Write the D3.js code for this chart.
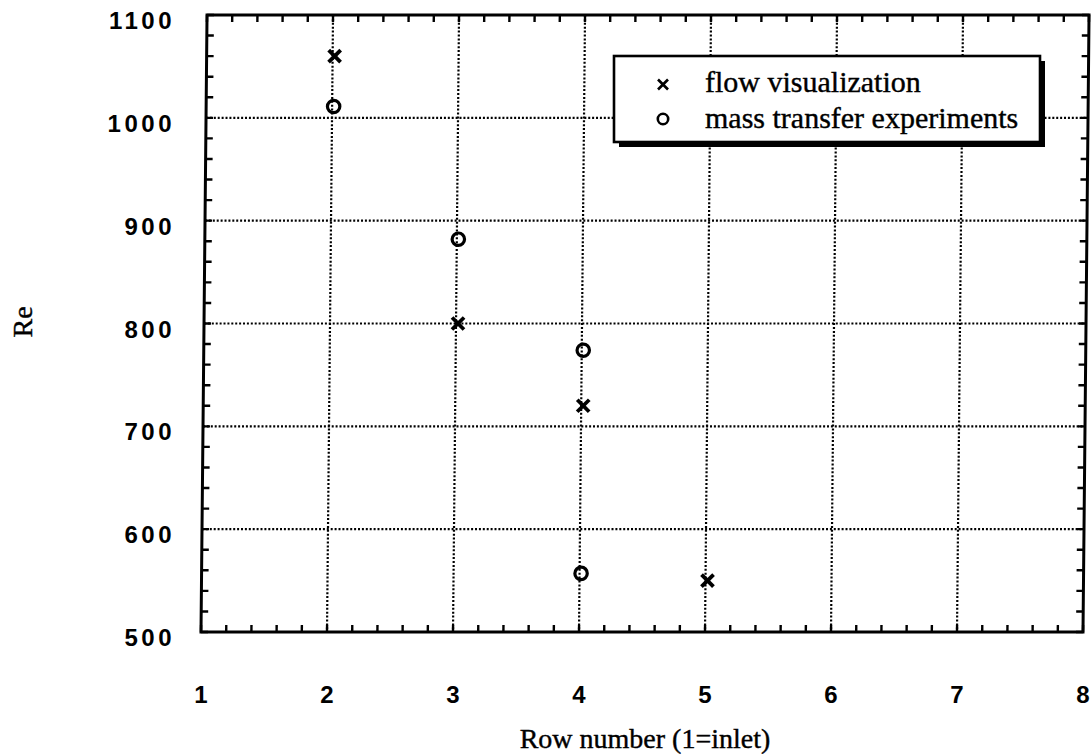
<!DOCTYPE html>
<html>
<head>
<meta charset="utf-8">
<script src="https://cdn.jsdelivr.net/npm/d3@7/dist/d3.min.js"></script>
<style>
  html, body { margin: 0; padding: 0; background: #fff; }
  svg { display: block; }
</style>
</head>
<body>
<svg id="chart" width="1091" height="755"></svg>
<script>
// Row number vs. Reynolds number at onset, two measurement methods
const flowRows = [2, 3, 4, 5];
const flowRe = [1060, 800, 720, 550];
const massRows = [2, 3, 4, 4];
const massRe = [1011, 882, 774, 557];
const xTicks = [1, 2, 3, 4, 5, 6, 7, 8];
const yTicks = [500, 600, 700, 800, 900, 1000, 1100];
const legendLabels = ["flow visualization", "mass transfer experiments"];

const svg = d3.select("#chart");
const plotL = 201, plotR = 1083, plotT = 15, plotB = 632;

const x = d3.scaleLinear().domain([1, 8]).range([plotL, plotR]);
const y = d3.scaleLinear().domain([500, 1100]).range([plotB, plotT]);

// plot body is sheared slightly, like the printed original
const plot = svg.append("g")
  .attr("transform", `translate(0,${plotB}) skewX(-0.56) translate(0,${-plotB})`);

// dotted grid at interior major ticks
const grid = plot.append("g").attr("stroke", "#000").attr("stroke-width", 2.2)
  .attr("stroke-dasharray", "2,1.9");
grid.selectAll(".gx").data(xTicks.slice(1, -1)).join("line")
  .attr("x1", d => x(d)).attr("x2", d => x(d)).attr("y1", plotT).attr("y2", plotB);
grid.selectAll(".gy").data(yTicks.slice(1, -1)).join("line")
  .attr("x1", plotL).attr("x2", plotR).attr("y1", d => y(d)).attr("y2", d => y(d));

// minor ticks pointing inward on all four sides
const minorX = d3.range(1, 8.001, 0.2);
const minorY = d3.range(500, 1100.001, 20);
const ticks = plot.append("g").attr("stroke", "#000").attr("stroke-width", 2.4);
const tl = 7;
ticks.selectAll(".tb").data(minorX).join("line")
  .attr("x1", d => x(d)).attr("x2", d => x(d)).attr("y1", plotB).attr("y2", plotB - tl);
ticks.selectAll(".tt").data(minorX).join("line")
  .attr("x1", d => x(d)).attr("x2", d => x(d)).attr("y1", plotT).attr("y2", plotT + tl);
ticks.selectAll(".tlft").data(minorY).join("line")
  .attr("x1", plotL).attr("x2", plotL + tl).attr("y1", d => y(d)).attr("y2", d => y(d));
ticks.selectAll(".trt").data(minorY).join("line")
  .attr("x1", plotR).attr("x2", plotR - tl).attr("y1", d => y(d)).attr("y2", d => y(d));

// frame
plot.append("rect").attr("x", plotL).attr("y", plotT)
  .attr("width", plotR - plotL).attr("height", plotB - plotT)
  .attr("fill", "none").attr("stroke", "#000").attr("stroke-width", 3);

// markers
const flowPts = flowRows.map((r, i) => ({ r, v: flowRe[i] }));
const massPts = massRows.map((r, i) => ({ r, v: massRe[i] }));
const cross = (g, s) => {
  g.append("line").attr("x1", -s).attr("y1", -s).attr("x2", s).attr("y2", s);
  g.append("line").attr("x1", -s).attr("y1", s).attr("x2", s).attr("y2", -s);
};
plot.append("g").selectAll("g").data(flowPts).join("g")
  .attr("transform", d => `translate(${x(d.r) + 2},${y(d.v)})`)
  .attr("stroke", "#000").attr("stroke-width", 3.8)
  .each(function () { cross(d3.select(this), 6); });
plot.append("g").selectAll("circle").data(massPts).join("circle")
  .attr("cx", d => x(d.r) + 1.5).attr("cy", d => y(d.v)).attr("r", 6.2)
  .attr("fill", "none").attr("stroke", "#000").attr("stroke-width", 3.2);

// tick labels
const tickFont = "'Liberation Sans', Arial, sans-serif";
svg.append("g").selectAll("text").data(yTicks).join("text")
  .attr("x", 175).attr("y", d => y(d) + 14)
  .attr("text-anchor", "end")
  .attr("font-family", tickFont).attr("font-weight", "bold")
  .attr("font-size", 24).attr("letter-spacing", 3.5)
  .text(d => d);
svg.append("g").selectAll("text").data(xTicks).join("text")
  .attr("x", d => x(d)).attr("y", 703)
  .attr("text-anchor", "middle")
  .attr("font-family", tickFont).attr("font-weight", "bold")
  .attr("font-size", 24)
  .text(d => d);

// axis titles
const serif = "'Liberation Serif', 'Times New Roman', serif";
svg.append("text").attr("x", 645).attr("y", 748).attr("text-anchor", "middle")
  .attr("font-family", serif).attr("font-size", 28)
  .attr("stroke", "#000").attr("stroke-width", 0.4)
  .text("Row number (1=inlet)");
svg.append("text").attr("transform", "translate(32,322) rotate(-90)")
  .attr("text-anchor", "middle")
  .attr("font-family", serif).attr("font-size", 28)
  .attr("stroke", "#000").attr("stroke-width", 0.4)
  .text("Re");

// legend with drop shadow
const lg = svg.append("g");
const bx = 614, by = 56, bw = 426, bh = 86;
lg.append("rect").attr("x", bx + 5).attr("y", by + 5).attr("width", bw).attr("height", bh)
  .attr("fill", "#000");
lg.append("rect").attr("x", bx).attr("y", by).attr("width", bw).attr("height", bh)
  .attr("fill", "#fff").attr("stroke", "#000").attr("stroke-width", 2.6);
const rows = [92, 128];
const lcross = lg.append("g").attr("transform", `translate(663,${rows[0] - 7.5})`)
  .attr("stroke", "#000").attr("stroke-width", 2.6);
cross(lcross, 5);
lg.append("circle").attr("cx", 663).attr("cy", rows[1] - 9).attr("r", 5.2)
  .attr("fill", "none").attr("stroke", "#000").attr("stroke-width", 2.6);
lg.selectAll("text").data(legendLabels).join("text")
  .attr("x", 705).attr("y", (d, i) => rows[i])
  .attr("font-family", serif).attr("font-size", 30)
  .attr("stroke", "#000").attr("stroke-width", 0.4)
  .text(d => d);
</script>
</body>
</html>
